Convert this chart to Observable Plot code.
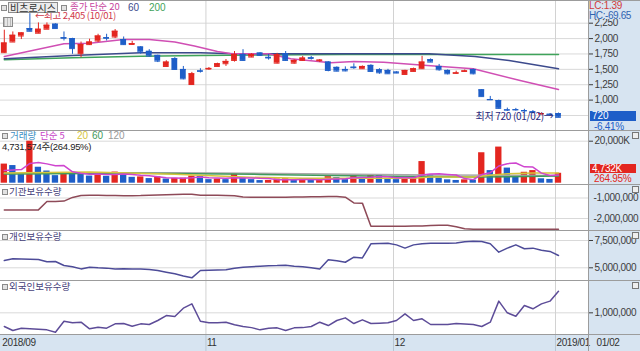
<!DOCTYPE html>
<html><head><meta charset="utf-8">
<script src="https://cdn.jsdelivr.net/npm/d3@7"></script>
<script src="https://cdn.jsdelivr.net/npm/@observablehq/plot@0.6"></script>
<style>
body{margin:0;background:#fff;}
#wrap{position:relative;width:640px;height:351px;overflow:hidden;background:#fff;}
</style></head><body><div id="wrap"></div>
<script>
// ---------- data ----------
const dates = ["2018-09-21","2018-09-27","2018-09-28",
"2018-10-01","2018-10-02","2018-10-04","2018-10-05","2018-10-08","2018-10-10","2018-10-11","2018-10-12","2018-10-15","2018-10-16","2018-10-17","2018-10-18","2018-10-19","2018-10-22","2018-10-23","2018-10-24","2018-10-25","2018-10-26","2018-10-29","2018-10-30","2018-10-31",
"2018-11-01","2018-11-02","2018-11-05","2018-11-06","2018-11-07","2018-11-08","2018-11-09","2018-11-12","2018-11-13","2018-11-14","2018-11-15","2018-11-16","2018-11-19","2018-11-20","2018-11-21","2018-11-22","2018-11-23","2018-11-26","2018-11-27","2018-11-28","2018-11-29","2018-11-30",
"2018-12-03","2018-12-04","2018-12-05","2018-12-06","2018-12-07","2018-12-10","2018-12-11","2018-12-12","2018-12-13","2018-12-14","2018-12-17","2018-12-18","2018-12-19","2018-12-20","2018-12-21","2018-12-24","2018-12-26","2018-12-27","2018-12-28",
"2019-01-02"];

const openP  = [1771,1944,2042,2163,2087,2152,2234,2015,2000,1755, 1902,1961,2015,2026,1984,1905,1863,1793,1727,1547, 1673,1498,1253,1475,1505,1547,1591,1645,1743,1700, 1765,1695,1601,1755,1601,1645,1688,1640,1618,1532, 1498,1535,1510,1564,1493,1482,1455,1417,1466,1510, 1657,1547,1482,1435,1466,1498,1167,1010,992,842, 845,830,810,775,770,780];
const highP  = [2136,2108,2095,2405,2255,2255,2240,2108,2005,1944, 1990,2070,2070,2147,2026,1955,1870,1820,1730,1640, 1690,1547,1450,1510,1530,1600,1660,1790,1820,1755, 1770,1743,1760,1790,1655,1710,1710,1660,1625,1540, 1540,1590,1555,1575,1510,1500,1460,1485,1520,1711, 1670,1580,1490,1470,1490,1505,1170,1060,1000,870, 865,850,830,790,780,790];
const lowP   = [1760,1940,1984,2110,2080,2150,2160,1961,1745,1690, 1890,1935,1961,2000,1890,1890,1745,1700,1610,1540, 1490,1330,1240,1440,1485,1540,1547,1618,1630,1690, 1710,1650,1590,1630,1585,1630,1650,1610,1460,1460, 1460,1500,1505,1450,1420,1420,1430,1410,1460,1500, 1610,1470,1410,1420,1455,1410,1050,1000,855,815, 820,800,790,760,740,720];
const closeP = [1928,2054,2092,2119,2152,2217,2163,2005,1837,1902, 1944,2042,2005,2119,1902,1918,1781,1716,1634,1618, 1498,1346,1428,1468,1515,1591,1629,1743,1645,1743, 1727,1685,1738,1645,1645,1683,1678,1650,1482,1471, 1475,1527,1547,1466,1444,1428,1440,1482,1510,1618, 1618,1493,1428,1443,1475,1428,1057,1005,866,838, 842,825,800,780,769,720];

const volume = [9100000,8400000,4400000,20000000,7600000,5800000,3600000,5100000,5000000,4400000, 3400000,4200000,3300000,5300000,4700000,2800000,3000000,2200000,3000000,2000000, 2300000,2400000,3400000,3200000,1700000,2000000,1700000,4400000,2500000,1700000, 1250000,1300000,2000000,2100000,1400000,2000000,1400000,1500000,3100000,2700000, 1700000,4100000,1900000,3700000,3600000,2300000,1700000,2300000,2700000,10300000, 4100000,2400000,1600000,1300000,1600000,1500000,14500000,6000000,17200000,7200000, 3300000,5200000,6000000,2100000,1785836,4731574];

// price moving averages: [candle index, price]
const ma20 = [[0,1709],[7,1915],[10,1925],[14,1985],[17,1985],[20,1945],[22.3,1880],[25,1790],[26.5,1758],[31,1753],[33.6,1672],[38.3,1607],[41,1628],[44.5,1616],[49.6,1563],[55,1509],[60.5,1319],[65,1173]];
const ma60 = [[0,1672],[8,1725],[16,1769],[23,1769],[27,1753],[49.8,1753],[55.2,1709],[59.2,1644],[65,1509]];
const ma200 = [[0,1655],[8,1688],[16,1714],[23,1725],[30,1735],[40,1740],[65,1740]];

// volume moving averages
const vma5 = [6.0,6.3,6.5,9.4,9.9,9.2,8.3,8.4,5.4,4.7, 4.3,4.4,4.1,4.1,4.4,4.1,3.8,3.6,3.1,2.6, 2.5,2.4,2.6,2.9,2.6,2.5,2.4,2.6,2.5,2.5, 2.3,2.2,1.7,1.7,1.6,1.8,1.8,1.7,1.9,2.0, 2.1,2.6,2.7,2.8,3.2,3.1,2.6,2.7,2.6,3.9, 4.4,4.5,4.2,3.9,2.2,1.7,4.1,5.0,8.2,9.3, 9.6,7.8,7.7,4.8,3.7,3.9]; // millions
const vma20 = [[0,4900000],[10,5300000],[20,4300000],[28,2900000],[35,2300000],[45,2400000],[48,2400000],[50,2900000],[55,3000000],[57,3800000],[59,4500000],[62,4900000],[65,4900000]];
const vma60 = [[0,4400000],[15,4700000],[30,4200000],[45,3300000],[55,2900000],[65,3400000]];
const vma120 = [[0,4600000],[20,5000000],[35,4500000],[50,3900000],[65,3700000]];

// holdings
const instHold = [-1580000,-1580000,-1580000,-1580000,-1580000,-1170000,-1170000,-1150000,-970000,-880000, -870000,-870000,-880000,-880000,-890000,-890000,-880000,-860000,-850000,-840000, -830000,-820000,-820000,-860000,-870000,-870000,-880000,-890000,-950000,-960000, -960000,-960000,-960000,-960000,-950000,-950000,-940000,-940000,-930000,-930000, -960000,-1240000,-1250000,-2380000,-2380000,-2380000,-2380000,-2380000,-2370000,-2370000, -2340000,-2330000,-2330000,-2400000,-2500000,-2530000,-2530000,-2530000,-2530000,-2530000, -2530000,-2530000,-2530000,-2530000,-2530000,-2530000];
const indivHold = [5670000,5820000,5800000,5780000,5760000,5550000,5580000,5210000,5100000,4900000, 5050000,5000000,4970000,4900000,4920000,4900000,4900000,4850000,4750000,4600000, 4450000,4250000,4080000,4750000,4780000,4800000,4820000,4950000,5050000,5100000, 5150000,5180000,5200000,5240000,5150000,5100000,5000000,4900000,5730000,5650000, 5510000,5970000,5900000,7200000,7220000,7250000,7100000,6800000,7100000,7200000, 7250000,7250000,7250000,7280000,7380000,7440000,7400000,7200000,6430000,6800000, 7100000,6750000,6800000,6600000,6500000,6130000];
const foreignHold = [829000,779000,808000,802000,795000,787000,758000,895000,875000,883000, 800000,820000,808000,862000,866000,833000,862000,854000,904000,966000, 954000,1058000,1112000,895000,875000,875000,883000,850000,830000,815000, 787000,808000,812000,779000,812000,815000,829000,883000,841000,904000, 937000,866000,912000,866000,870000,875000,904000,987000,904000,925000, 854000,854000,854000,866000,860000,854000,829000,883000,1146000,1000000, 958000,1091000,1050000,1112000,1146000,1270000];

// ticks & labels
const priceGrid = [2250,2000,1750,1500,1250,1000,750];
const priceTicks = [2250,2000,1750,1500,1250,1000];
const volTicks = [20000000];
const instTicks = [-1000000,-2000000];
const indivTicks = [7500000,5000000];
const foreignTicks = [1000000];
const xTickDates = ["2018-09-21","2018-11-01","2018-12-03","2019-01-02"];
const xTickLabels = ["2018/09","11","12","2019/01"];
const stockName = "비츠로시스";
const lcText = "LC:1.39", hcText = "HC:-69.65";
const changePct = "-6.41%";

// ---------- setup ----------
const FONT = '"Liberation Sans", Arial, "Noto Sans CJK KR", sans-serif';
const KFONT = '"Noto Sans CJK KR", "Liberation Sans", sans-serif';
const RED = "#e32620", BLUE = "#1e5ec8";
const PANEL_BG = "#d7e4f1";
const XD = [-0.446, 68.52];
const W = 640, MR = 52;
const wrap = document.getElementById("wrap");

const rows = dates.map((d,i)=>({i, date:d, open:openP[i], high:highP[i], low:lowP[i], close:closeP[i], vol:volume[i], vma5:vma5[i]*1e6, inst:instHold[i], indiv:indivHold[i], foreign:foreignHold[i]}));
const candleColor = d => d.close >= d.open ? RED : BLUE;
const volColor = d => (d.i === 0 || d.vol >= volume[d.i-1]) ? RED : BLUE;
const monthRules = xTickDates.slice(1).map(d => dates.indexOf(d));
const xTicks = xTickDates.map((d,k)=>({i:dates.indexOf(d), label:xTickLabels[k]}));
const fmtNum = d => d3.format(",")(d).replace("\u2212","-");
const mmdd = s => s.slice(5).replace("-","/");
const hi = rows.reduce((a,b)=> b.high > a.high ? b : a);
const lo = rows.reduce((a,b)=> b.low <= a.low ? b : a);
const last = rows[rows.length-1];
const prev = rows[rows.length-2];

function el(css, text, font){
  const e = document.createElement("div");
  e.style.cssText = "position:absolute;white-space:nowrap;line-height:1;font-family:"+(font||FONT)+";"+css;
  if (text != null) e.textContent = text;
  wrap.appendChild(e);
  return e;
}
function panel(h, ydomain, marks){
  return Plot.plot({
    width: W, height: h, marginLeft: 0, marginRight: MR, marginTop: 0, marginBottom: 0,
    x: {domain: XD, axis: null},
    y: {domain: ydomain},
    color: {type: "identity"},
    style: {background: "transparent", overflow: "visible", fontFamily: FONT, fontSize: "10px", letterSpacing: "-0.3px", color: "#3c3c3c"},
    marks
  });
}
function put(svg, top, h){
  const holder = el(`left:0;top:${top}px;width:${W}px;height:${h}px;`);
  holder.appendChild(svg);
}
const xi = d => d[0], yv = d => d[1];
const bodyX1 = d => d.i - 0.34, bodyX2 = d => d.i + 0.34;
const grid = t => Plot.gridY(t, {stroke: "#d9d9d9", strokeOpacity: 1});
const vgrid = () => Plot.ruleX(monthRules, {dx: -3, stroke: "#d2d2d2"});
const rAxis = (t, fmt, size=4, pad=2) => Plot.axisY(t, {anchor: "right", tickSize: size, tickPadding: pad, tickFormat: fmt, label: null, color: "#3c3c3c"});

// backgrounds
el(`left:588px;top:0;width:52px;height:351px;background:${PANEL_BG};`);
el(`left:0;top:334px;width:640px;height:17px;background:${PANEL_BG};`);

// ---------- price panel ----------
const price = panel(130, [506, 2619], [
  grid(priceGrid), vgrid(),
  Plot.line(ma200, {x: xi, y: yv, stroke: "#3fa35a"}),
  Plot.line(ma60, {x: xi, y: yv, stroke: "#3c4a8c"}),
  Plot.line(ma20, {x: xi, y: yv, stroke: "#d04fb4"}),
  Plot.ruleX(rows, {x: "i", y1: "low", y2: "high", stroke: candleColor}),
  Plot.rect(rows, {x1: bodyX1, x2: bodyX2, y1: "open", y2: "close", fill: candleColor}),
  Plot.ruleY(rows, {y: "open", x1: bodyX1, x2: bodyX2, stroke: candleColor}),
  Plot.ruleY(rows, {y: "close", x1: bodyX1, x2: bodyX2, stroke: candleColor}),
  rAxis(priceTicks, fmtNum),
  Plot.text([hi], {x: "i", y: "high", text: d => `←최고 ${fmtNum(d.high)} (${mmdd(d.date)})`, textAnchor: "start", dx: 5, dy: 2.5, fill: "#d03a4a", fontFamily: KFONT, fontSize: 9.5}),
  Plot.text([lo], {x: "i", y: "low", text: d => `최저 ${fmtNum(d.low)} (${mmdd(d.date)})→`, textAnchor: "end", dx: -5, dy: -1, fill: "#2a2a7e", fontFamily: KFONT, fontSize: 10})
]);
put(price, 0, 130);

// ---------- volume panel ----------
const vol = panel(54, [-619000, 25095000], [
  grid(volTicks), vgrid(),
  Plot.rect(rows, {x1: d => d.i - 0.37, x2: d => d.i + 0.37, y1: 0, y2: "vol", fill: volColor}),
  Plot.line(vma120, {x: xi, y: yv, stroke: "#a8a8a8"}),
  Plot.line(vma60, {x: xi, y: yv, stroke: "#3f9a5c"}),
  Plot.line(vma20, {x: xi, y: yv, stroke: "#d6c53c"}),
  Plot.line(rows, {x: "i", y: "vma5", stroke: "#cf45cf"}),
  rAxis(volTicks, d => fmtNum(d/1000) + "K")
]);
put(vol, 130, 54);

// ---------- institutional ----------
const inst = panel(46, [-2585000, -341000], [
  grid(instTicks), vgrid(),
  Plot.line(rows, {x: "i", y: "inst", stroke: "#8e4a58"}),
  rAxis(instTicks, fmtNum, 0, 5)
]);
put(inst, 184, 46);

// ---------- individual ----------
const indiv = panel(50, [3837000, 8416000], [
  grid(indivTicks), vgrid(),
  Plot.line(rows, {x: "i", y: "indiv", stroke: "#4d4b98"}),
  rAxis(indivTicks, fmtNum)
]);
put(indiv, 230, 50);

// ---------- foreign ----------
const foreign = panel(54, [729000, 1404000], [
  grid(foreignTicks), vgrid(),
  Plot.line(rows, {x: "i", y: "foreign", stroke: "#5d4c98"}),
  rAxis(foreignTicks, fmtNum)
]);
put(foreign, 280, 54);

// ---------- x axis strip ----------
const axisStrip = Plot.plot({
  width: W, height: 17, marginLeft: 0, marginRight: MR, marginTop: 0, marginBottom: 0,
  x: {domain: XD, axis: null},
  style: {background: "transparent", overflow: "visible", fontFamily: FONT, fontSize: "10px", letterSpacing: "-0.4px", color: "#333"},
  marks: [
    Plot.ruleX(monthRules, {dx: -3, stroke: "#b9c6d3"}),
    Plot.text(xTicks, {x: "i", text: "label", textAnchor: "start", dx: -2, frameAnchor: "middle", fill: "#333"}),
    Plot.text([mmdd(last.date)], {frameAnchor: "right", dx: 8, textAnchor: "start", text: d => d, fill: "#333"})
  ]
});
put(axisStrip, 334, 17);

// ---------- borders ----------
for (const y of [0,130,184,230,280,334]) el(`left:0;top:${y}px;width:640px;height:1px;background:#9c9c9c;`);
el(`left:588px;top:0;width:1px;height:351px;background:#9c9c9c;`);

// ---------- right panel labels ----------
el(`left:589px;top:1px;font-size:10px;letter-spacing:-0.3px;color:#d23b3b;`, lcText);
el(`left:589px;top:10.5px;width:51px;height:8px;background:${PANEL_BG};font-size:10px;letter-spacing:-0.4px;color:#2f63b0;line-height:9px;`, hcText);
const py = price.scale("y").apply(last.close);
el(`left:590px;top:${py-5.5}px;width:46px;height:10px;background:${BLUE};color:#fff;font-size:10px;padding-left:2px;box-sizing:border-box;`, fmtNum(last.close));
el(`left:594px;top:${py+5}px;font-size:10px;letter-spacing:-0.3px;color:${BLUE};`, changePct);
const vy = 130 + vol.scale("y").apply(last.vol);
el(`left:590px;top:${vy-9}px;width:46px;height:9px;background:${RED};color:#fff;font-size:10px;padding-left:2px;box-sizing:border-box;letter-spacing:-0.3px;line-height:9px;`, fmtNum(Math.round(last.vol/1000)) + "K");
const pctTxt = (last.vol/prev.vol*100).toFixed(2) + "%";
el(`left:594px;top:${vy+1.5}px;font-size:10px;letter-spacing:-0.3px;color:${RED};`, pctTxt);

// small panel icons (right)
for (const t of [132,186,232,282]) el(`left:632px;top:${t}px;width:5px;height:5px;border:1px solid #777;background:#eee;`);

// ---------- legends ----------
const sq = (l,t) => el(`left:${l}px;top:${t}px;width:4px;height:4px;border:1px solid #8a8a8a;background:#e2e2e2;`);
sq(1,5);
el(`left:8px;top:2px;width:50px;height:11px;border:1px solid #8c8c8c;background:#ececec;box-sizing:border-box;font-size:10px;color:#333;text-align:center;line-height:10px;`, stockName, KFONT);
sq(61,5);
el(`left:70px;top:1.5px;font-size:9.5px;color:#c8459e;`, "종가 단순 20", KFONT);
el(`left:128px;top:2.5px;font-size:10px;color:#3c4a8c;`, "60");
el(`left:149px;top:2.5px;font-size:10px;color:#3fa35a;`, "200");
el(`left:3px;top:17px;width:8px;height:8px;border:1px solid #8a8a8a;background:repeating-linear-gradient(90deg,#bbb 0 1px,#e6e6e6 1px 3px);`);

sq(2,133);
el(`left:10px;top:130.5px;font-size:9.5px;color:#3d8fc4;`, "거래량", KFONT);
el(`left:40px;top:130.5px;font-size:9.5px;color:#c845c8;`, "단순 5", KFONT);
el(`left:77px;top:131px;font-size:10px;color:#d6c53c;`, "20");
el(`left:92px;top:131px;font-size:10px;color:#3f9a5c;`, "60");
el(`left:108px;top:131px;font-size:10px;color:#999;`, "120");
el(`left:2px;top:142px;font-size:9.5px;letter-spacing:-0.3px;color:#222;`, `${fmtNum(last.vol)}주(${pctTxt})`);

const lbl = (t, txt) => { sq(2, t+2); el(`left:9px;top:${t}px;font-size:9.5px;color:#46407a;`, txt, KFONT); };
lbl(186.5, "기관보유수량");
lbl(232, "개인보유수량");
lbl(281.5, "외국인보유수량");
</script>
</body></html>
